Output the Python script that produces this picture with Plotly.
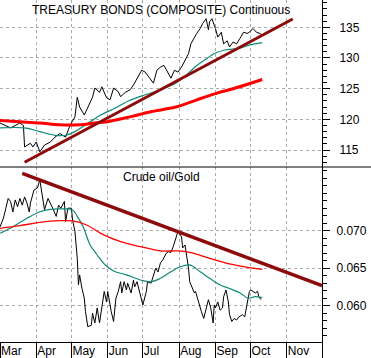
import plotly.graph_objects as go
from plotly.subplots import make_subplots

# ---------------- data (2010) ----------------
bond_dates = ["2010-03-01","2010-03-10","2010-03-18","2010-03-21","2010-03-22","2010-03-27","2010-03-29",
              "2010-04-01","2010-04-04","2010-04-08","2010-04-13","2010-04-17","2010-04-21","2010-04-26",
              "2010-04-30","2010-05-04","2010-05-06","2010-05-08","2010-05-12","2010-05-15","2010-05-19",
              "2010-05-21","2010-05-25","2010-05-27","2010-05-31","2010-06-03","2010-06-06","2010-06-10",
              "2010-06-12","2010-06-16","2010-06-20","2010-06-23","2010-06-27","2010-06-30","2010-07-03",
              "2010-07-07","2010-07-10","2010-07-13","2010-07-16","2010-07-19","2010-07-22","2010-07-25",
              "2010-07-28","2010-07-31","2010-08-03","2010-08-06","2010-08-09","2010-08-11","2010-08-14",
              "2010-08-16","2010-08-19","2010-08-21","2010-08-24","2010-08-26","2010-08-27","2010-08-29",
              "2010-09-01","2010-09-03","2010-09-06","2010-09-08","2010-09-11","2010-09-13","2010-09-16",
              "2010-09-19","2010-09-22","2010-09-25","2010-09-28","2010-09-30","2010-10-03","2010-10-06",
              "2010-10-09","2010-10-11"]
bond_price = [119.4,118.6,119.4,119.0,115.5,116.1,115.5,
              116.3,114.7,115.8,116.3,117.1,117.7,117.1,
              119.1,120.4,123.6,122.0,120.7,122.0,123.6,
              125.1,124.4,125.3,123.5,123.2,125.1,124.5,
              123.7,124.4,124.8,125.6,127.0,128.0,127.7,
              126.7,125.9,128.0,128.5,128.8,127.7,126.7,
              128.0,127.7,128.5,129.6,130.7,132.3,133.4,
              134.0,134.8,135.6,136.4,134.6,135.9,136.4,
              134.8,133.4,134.2,132.3,132.8,131.8,132.6,
              132.3,133.2,134.2,134.0,134.2,134.8,134.2,
              134.0,133.7]

bond_ma_short_dates = ["2010-03-01","2010-03-22","2010-04-04","2010-04-17","2010-04-26","2010-05-04",
                       "2010-05-17","2010-05-26","2010-06-07","2010-06-20","2010-07-03","2010-07-16",
                       "2010-07-29","2010-08-06","2010-08-15","2010-08-23","2010-09-01","2010-09-09",
                       "2010-09-22","2010-09-30","2010-10-11"]
bond_ma_short = [118.6,118.6,118.0,117.4,117.4,118.0,
                 119.6,120.7,121.8,123.1,124.0,124.8,
                 125.9,127.0,128.6,129.7,130.8,131.3,
                 131.6,132.1,132.5]

bond_ma_long_dates = ["2010-03-01","2010-03-18","2010-04-04","2010-04-21","2010-05-08","2010-05-21",
                      "2010-06-03","2010-06-20","2010-07-07","2010-07-29","2010-08-15","2010-09-01",
                      "2010-09-18","2010-10-11"]
bond_ma_long = [119.8,119.6,119.4,119.1,119.1,119.4,
                119.7,120.4,121.2,122.0,123.1,124.2,
                125.1,126.5]

bond_trend_dates = ["2010-03-22", "2010-11-06"]
bond_trend = [113.0, 136.35]

ratio_dates = ["2010-03-01","2010-03-04","2010-03-06","2010-03-08","2010-03-10","2010-03-12","2010-03-14",
               "2010-03-16","2010-03-18","2010-03-20","2010-03-22","2010-03-24","2010-03-26","2010-03-27",
               "2010-03-30","2010-04-02","2010-04-04","2010-04-06","2010-04-08","2010-04-11","2010-04-14",
               "2010-04-15","2010-04-18","2010-04-20","2010-04-22","2010-04-25","2010-04-26","2010-04-28",
               "2010-05-01","2010-05-02","2010-05-04","2010-05-06","2010-05-07","2010-05-08","2010-05-10",
               "2010-05-12","2010-05-13","2010-05-15","2010-05-18","2010-05-19","2010-05-21","2010-05-23",
               "2010-05-25","2010-05-27","2010-05-29","2010-05-31","2010-06-01","2010-06-04","2010-06-06",
               "2010-06-08","2010-06-10","2010-06-12","2010-06-13","2010-06-15","2010-06-17","2010-06-18",
               "2010-06-21","2010-06-23","2010-06-24","2010-06-26","2010-06-29","2010-07-01","2010-07-04",
               "2010-07-05","2010-07-08","2010-07-10","2010-07-12","2010-07-14","2010-07-16","2010-07-18",
               "2010-07-21","2010-07-23","2010-07-25","2010-07-27","2010-07-29","2010-07-31","2010-08-03",
               "2010-08-04","2010-08-06","2010-08-08","2010-08-09","2010-08-10","2010-08-12","2010-08-14",
               "2010-08-15","2010-08-18","2010-08-20","2010-08-22","2010-08-24","2010-08-26","2010-08-28",
               "2010-08-30","2010-08-31","2010-09-01","2010-09-03","2010-09-05","2010-09-07","2010-09-08",
               "2010-09-10","2010-09-12","2010-09-13","2010-09-15","2010-09-17","2010-09-19","2010-09-21",
               "2010-09-24","2010-09-26","2010-09-28","2010-09-30","2010-10-01","2010-10-03","2010-10-05",
               "2010-10-07","2010-10-08","2010-10-10"]
ratio = [0.0705,0.0717,0.0730,0.0743,0.0739,0.0725,0.0741,
         0.0732,0.0743,0.0734,0.0745,0.0737,0.0725,0.0737,
         0.0754,0.0757,0.0768,0.0748,0.0728,0.0743,0.0734,
         0.0730,0.0719,0.0734,0.0730,0.0739,0.0712,0.0730,
         0.0730,0.0714,0.0699,0.0663,0.0628,0.0641,0.0623,
         0.0610,0.0592,0.0572,0.0574,0.0590,0.0577,0.0597,
         0.0577,0.0601,0.0619,0.0605,0.0619,0.0592,0.0579,
         0.0610,0.0619,0.0632,0.0617,0.0632,0.0621,0.0630,
         0.0617,0.0634,0.0625,0.0632,0.0612,0.0601,0.0619,
         0.0632,0.0630,0.0641,0.0650,0.0645,0.0657,0.0661,
         0.0670,0.0672,0.0671,0.0679,0.0690,0.0699,0.0692,
         0.0677,0.0681,0.0663,0.0650,0.0632,0.0623,0.0617,
         0.0619,0.0601,0.0592,0.0583,0.0597,0.0608,0.0597,
         0.0577,0.0601,0.0597,0.0605,0.0594,0.0597,0.0612,
         0.0621,0.0605,0.0588,0.0579,0.0583,0.0581,0.0585,
         0.0588,0.0585,0.0601,0.0619,0.0621,0.0619,0.0617,
         0.0619,0.0612,0.0608]

ratio_ma_short_dates = ["2010-03-01","2010-03-12","2010-03-24","2010-04-04","2010-04-13","2010-04-24",
                        "2010-05-02","2010-05-06","2010-05-11","2010-05-17","2010-05-23","2010-05-30",
                        "2010-06-06","2010-06-17","2010-06-29","2010-07-08","2010-07-16","2010-07-25",
                        "2010-08-02","2010-08-10","2010-08-19","2010-08-27","2010-09-05","2010-09-13",
                        "2010-09-22","2010-09-29","2010-10-05","2010-10-11"]
ratio_ma_short = [0.06965,0.07053,0.07165,0.07253,0.07285,0.07290,
                  0.07276,0.07190,0.07053,0.06810,0.06676,0.06543,
                  0.06463,0.06410,0.06343,0.06320,0.06365,0.06453,
                  0.06520,0.06543,0.06453,0.06365,0.06276,0.06230,
                  0.06170,0.06100,0.06120,0.06107]

ratio_ma_long_dates = ["2010-03-01","2010-03-18","2010-04-04","2010-04-21","2010-05-02","2010-05-14",
                       "2010-05-26","2010-06-12","2010-06-29","2010-07-16","2010-07-31","2010-08-10",
                       "2010-08-27","2010-09-13","2010-09-30","2010-10-11"]
ratio_ma_long = [0.07032,0.07067,0.07110,0.07133,0.07130,0.07076,
                 0.06965,0.06853,0.06787,0.06730,0.06730,0.06710,
                 0.06632,0.06556,0.06507,0.06485]

ratio_trend_dates = ["2010-03-20", "2010-12-01"]
ratio_trend = [0.07765, 0.06267]

month_ticks = ["2010-03-01","2010-04-01","2010-05-01","2010-06-01","2010-07-01",
               "2010-08-01","2010-09-01","2010-10-01","2010-11-01","2010-12-01"]
month_labels = ["Mar","Apr","May","Jun","Jul","Aug","Sep","Oct","Nov",""]

top_title = "TREASURY BONDS (COMPOSITE) Continuous"
bottom_title = "Crude oil/Gold"

# ---------------- styles ----------------
BLACK = "#000000"
TEAL = "#0e8a78"
RED = "#ff0000"
DARKRED = "#8e0a0a"
GRID = "#a9a9a9"
FONT = "Liberation Sans, Arial, sans-serif"

W, H = 371, 358
ML, MR, MT, MB = 0, 49, 0, 16
plot_h = H - MT - MB
top_h = 167 / plot_h

fig = make_subplots(rows=2, cols=1, shared_xaxes=True, vertical_spacing=0,
                    row_heights=[top_h, 1 - top_h])

fig.add_trace(go.Scatter(x=bond_dates, y=bond_price, mode="lines",
                         line=dict(color=BLACK, width=1)), row=1, col=1)
fig.add_trace(go.Scatter(x=bond_ma_short_dates, y=bond_ma_short, mode="lines",
                         line=dict(color=TEAL, width=1.2, shape="spline")), row=1, col=1)
fig.add_trace(go.Scatter(x=bond_ma_long_dates, y=bond_ma_long, mode="lines",
                         line=dict(color=RED, width=3, shape="spline")), row=1, col=1)
fig.add_trace(go.Scatter(x=bond_trend_dates, y=bond_trend, mode="lines",
                         line=dict(color=DARKRED, width=3)), row=1, col=1)

fig.add_trace(go.Scatter(x=ratio_dates, y=ratio, mode="lines",
                         line=dict(color=BLACK, width=1)), row=2, col=1)
fig.add_trace(go.Scatter(x=ratio_ma_short_dates, y=ratio_ma_short, mode="lines",
                         line=dict(color=TEAL, width=1.2, shape="spline")), row=2, col=1)
fig.add_trace(go.Scatter(x=ratio_ma_long_dates, y=ratio_ma_long, mode="lines",
                         line=dict(color=RED, width=1.3, shape="spline")), row=2, col=1)
fig.add_trace(go.Scatter(x=ratio_trend_dates, y=ratio_trend, mode="lines",
                         line=dict(color=DARKRED, width=3.5)), row=2, col=1)

xcommon = dict(type="date", range=["2010-03-01", "2010-12-01"], automargin=False,
               tickvals=month_ticks, showgrid=True, gridcolor=GRID,
               griddash="3px,3px", gridwidth=1, zeroline=False)
fig.update_xaxes(**xcommon)
fig.update_xaxes(row=1, col=1, showticklabels=False, ticks="", showline=False)
fig.update_xaxes(row=2, col=1, ticktext=month_labels, showticklabels=True,
                 ticks="outside", ticklen=16, tickcolor=BLACK, tickwidth=1,
                 ticklabelposition="outside right", ticklabelstandoff=-2,
                 showline=True, linecolor=BLACK, linewidth=1,
                 tickfont=dict(family=FONT, size=12, color=BLACK))

ycommon = dict(side="right", showline=True, linecolor=BLACK, linewidth=1, automargin=False,
               ticks="outside", ticklen=7, tickcolor=BLACK, showgrid=True,
               gridcolor=GRID, griddash="3px,3px", gridwidth=1, zeroline=False,
               tickfont=dict(family=FONT, size=12, color=BLACK))
fig.update_yaxes(**ycommon)
fig.update_yaxes(row=1, col=1, range=[112.23, 139.45], tickvals=[115, 120, 125, 130, 135],
                 ticklabelstandoff=7,
                 minor=dict(ticks="outside", ticklen=4, dtick=1, tickcolor=BLACK, showgrid=False))
fig.update_yaxes(row=2, col=1, range=[0.05516, 0.07849], tickvals=[0.060, 0.065, 0.070],
                 tickformat=".3f", ticklabelstandoff=4,
                 minor=dict(ticks="outside", ticklen=4, dtick=0.001, tick0=0.06,
                            tickcolor=BLACK, showgrid=False))

fig.add_shape(type="line", xref="paper", yref="paper", x0=0, x1=W / (W - ML - MR),
              y0=1 - top_h, y1=1 - top_h, line=dict(color=BLACK, width=1), layer="above")

fig.add_annotation(text=top_title, xref="paper", yref="paper", x=0.5, y=1 - 10 / plot_h,
                   showarrow=False, font=dict(family=FONT, size=12, color=BLACK),
                   xanchor="center", yanchor="middle")
fig.add_annotation(text=bottom_title, xref="paper", yref="paper", x=0.5, y=1 - 176.5 / plot_h,
                   showarrow=False, font=dict(family=FONT, size=12, color=BLACK),
                   xanchor="center", yanchor="middle")

fig.update_layout(width=W, height=H, margin=dict(l=ML, r=MR, t=MT, b=MB, autoexpand=False),
                  paper_bgcolor="white", plot_bgcolor="white", showlegend=False,
                  hovermode=False, dragmode=False,
                  font=dict(family=FONT, size=12, color=BLACK))

fig.write_html("out.html", config={"displayModeBar": False, "staticPlot": True},
               post_script="document.body.style.margin='0';document.body.style.overflow='hidden';")
